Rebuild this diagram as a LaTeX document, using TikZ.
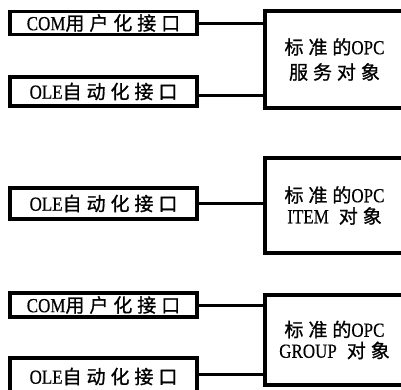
\documentclass[tikz,border=0pt]{standalone}
\usepackage{fontspec}
\setmainfont[FakeStretch=0.85,FakeBold=0.3]{Liberation Serif}
\newfontfamily\cjk[LetterSpace=26,FakeBold=1]{Noto Sans CJK SC}
\newcommand\zh[1]{{\cjk\fontsize{19}{22}\selectfont #1}}
\begin{document}
\begin{tikzpicture}[x=1pt,y=-1pt,
  frame/.style={draw,line width=3.2pt,inner sep=0pt},
  lbox/.style={frame,minimum width=187pt,font=\fontsize{20}{22}\selectfont},
  rbox/.style={frame,minimum width=139pt,align=center,font=\fontsize{20}{25}\selectfont},
  link/.style={line width=3pt}]
\useasboundingbox[fill=white] (0,0) rectangle (401,389);
% top group
\node[lbox,minimum height=23pt] (a1) at (103.5,23) {COM\zh{用户化接口}};
\node[lbox,minimum height=29pt] (a2) at (103.5,91.5) {OLE\zh{自动化接口}};
\node[rbox,minimum height=97pt] (r1) at (334.5,59.5) {\zh{标准的}OPC\\\zh{服务对象}};
\draw[link] (a1.east) -- (a1.east -| r1.west);
\draw[link] ([yshift=-4pt]a2.east) -- ([yshift=-4pt]a2.east -| r1.west);
% middle group
\node[lbox,minimum height=31pt] (b1) at (103.5,203.5) {OLE\zh{自动化接口}};
\node[rbox,minimum height=95pt,font=\fontsize{20}{21}\selectfont] (r2) at (334.5,205.5) {\zh{标准的}OPC\\ITEM\enspace\zh{对象}};
\draw[link] (b1.east) -- (b1.east -| r2.west);
% bottom group
\node[lbox,minimum height=24pt] (c1) at (103.5,305) {COM\zh{用户化接口}};
\node[lbox,minimum height=37pt] (c2) at (103.5,376.5) {OLE\zh{自动化接口}};
\node[rbox,minimum height=90pt,font=\fontsize{20}{21}\selectfont] (r3) at (334.5,340) {\zh{标准的}OPC\\GROUP\enspace\zh{对象}};
\draw[link] (c1.east) -- (c1.east -| r3.west);
\draw[link] ([yshift=2pt]c2.east) -- ([yshift=2pt]c2.east -| r3.west);
\end{tikzpicture}
\end{document}
